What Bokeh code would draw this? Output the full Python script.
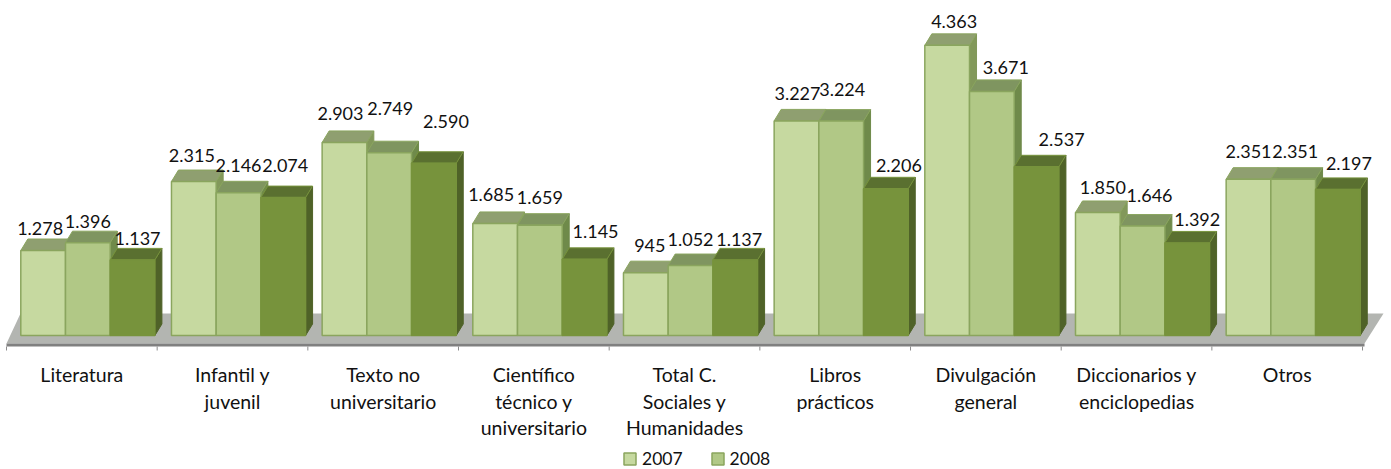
from bokeh.plotting import figure
from bokeh.models import Legend, LegendItem
from bokeh.core.properties import value
from bokeh.embed import file_html
from bokeh.resources import INLINE

categories = [
    ["Literatura"],
    ["Infantil y", "juvenil"],
    ["Texto no", "universitario"],
    ["Científico", "técnico y", "universitario"],
    ["Total C.", "Sociales y", "Humanidades"],
    ["Libros", "prácticos"],
    ["Divulgación", "general"],
    ["Diccionarios y", "enciclopedias"],
    ["Otros"],
]
series_a = [1278, 2315, 2903, 1685, 945, 3227, 4363, 1850, 2351]
series_b = [1396, 2146, 2749, 1659, 1052, 3224, 3671, 1646, 2351]
series_c = [1137, 2074, 2590, 1145, 1137, 2206, 2537, 1392, 2197]
series_names = ["2007", "2008", "2009"]

# hand placement of the data labels, in pixels relative to the bar's front top centre
dx_a = [-3, -2, -4, -4, 4, 1, 7, 5, 0]
dx_b = [0, 0, 1, 0, 0, 1, 14, 7, 2]
dx_c = [5, 2, 12, 11, 4, 13, 25, 10, 11]
dy_a = [22, 26, 29, 29, 27, 27, 24, 25, 28]
dy_b = [21, 27, 44, 28, 26, 32, 24, 31, 28]
dy_c = [21, 32, 42, 28, 20, 23, 27, 23, 26]

W, H = 1391, 469
X0, CAT_W = 6.0, 150.67      # pixel of x=0, pixels per category
Y0, PX_PER_UNIT = 335.0, 0.0665  # pixel of y=0, pixels per value unit
px = 1 / CAT_W
py = 1 / PX_PER_UNIT

p = figure(width=W, height=H, output_backend="svg", toolbar_location=None,
           x_range=(-X0 * px, (W - X0) * px),
           y_range=((Y0 - H) * py, Y0 * py),
           min_border=0, outline_line_color=None, background_fill_color="white")
p.axis.visible = False
p.grid.visible = False

# floor
n = len(categories)
p.patch([0, 14 * px, (1383 - X0) * px, (1364 - X0) * px],
        [-8 * py, 22 * py, 22 * py, -8 * py], fill_color="#B3B5B1", line_color=None)
p.patch([0, n + 2 * px, n + 2 * px, 0],
        [-8 * py, -8 * py, -11 * py, -11 * py], fill_color="#808080", line_color=None)
# ticks
tick_x = list(range(n + 1))
p.segment(tick_x, [-11 * py] * (n + 1), tick_x, [-15 * py] * (n + 1), line_color="#8C8C8C", line_width=1)

DX, DY = 7 * px, 11.5 * py
BW = 44.7 * px
OFF = 14.3 * px
styles = [
    dict(front="#C6D9A0", top="#8F9F70", side="#82985A", line="#8AA55E"),
    dict(front="#B1C886", top="#7F9560", side="#6F8A4A", line="#8AA55E"),
    dict(front="#77933C", top="#5A7030", side="#4F6228", line="#77933C"),
]
font = value("Lato")
renderers = []
for j, (vals, st) in enumerate(zip((series_a, series_b, series_c), styles)):
    x0 = [i + OFF + j * BW for i in range(n)]
    x1 = [x + BW for x in x0]
    sx = [[b, b + DX, b + DX, b] for b in x1]
    sy = [[0, DY, v + DY, v] for v in vals]
    p.patches(sx, sy, fill_color=st["side"], line_color=st["side"], line_width=1)
    tx = [[a, a + DX, b + DX, b] for a, b in zip(x0, x1)]
    ty = [[v, v + DY, v + DY, v] for v in vals]
    p.patches(tx, ty, fill_color=st["top"], line_color=st["line"], line_width=1)
    renderers.append(p.quad(left=x0, right=x1, bottom=[0] * n, top=vals,
                            fill_color=st["front"], line_color=st["line"], line_width=1.5))

for j, (vals, dxs, dys) in enumerate(zip((series_a, series_b, series_c),
                                         (dx_a, dx_b, dx_c), (dy_a, dy_b, dy_c))):
    xs = [i + OFF + (j + 0.5) * BW + d * px for i, d in zip(range(n), dxs)]
    ys = [v + d * py for v, d in zip(vals, dys)]
    txt = [f"{v:,}".replace(",", ".") for v in vals]
    p.text(xs, ys, text=txt, text_font=font, text_font_size="18px", text_color="#111111",
           text_align="center", text_baseline="middle")

# category labels
lx, ly, lt = [], [], []
for i, lines in enumerate(categories):
    for k, s in enumerate(lines):
        lx.append(i + 0.5)
        ly.append(-(39 + 26.5 * k) * py)
        lt.append(s)
p.text(lx, ly, text=lt, text_font=font, text_font_size="19.5px", text_color="#111111",
       text_align="center", text_baseline="middle")

legend = Legend(items=[LegendItem(label=series_names[0], renderers=[renderers[0]]),
                       LegendItem(label=series_names[1], renderers=[renderers[1]])],
                location=(622, 0), orientation="horizontal",
                glyph_width=15, glyph_height=15, label_standoff=5, spacing=27,
                padding=0, margin=0, border_line_color=None, background_fill_alpha=0,
                label_text_font="Lato", label_text_font_size="17.5px", label_text_color="#111111",
                label_height=15, label_width=30)
p.add_layout(legend)

open("out.html", "w").write(file_html(p, INLINE))
